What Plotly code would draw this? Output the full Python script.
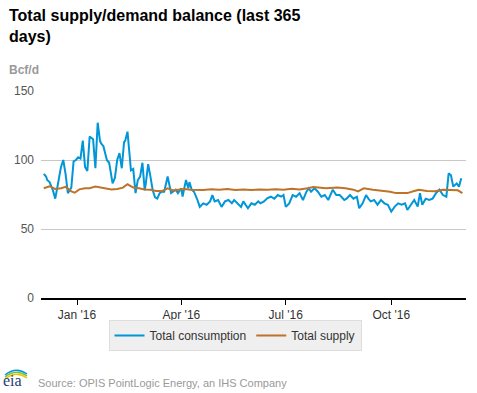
import plotly.graph_objects as go

# ---- data ----
cons_dates = [
    "2015-12-03", "2015-12-05", "2015-12-06", "2015-12-08", "2015-12-11", "2015-12-13", "2015-12-15",
    "2015-12-18", "2015-12-20", "2015-12-22", "2015-12-24", "2015-12-27", "2015-12-29", "2015-12-31",
    "2016-01-02", "2016-01-04", "2016-01-06", "2016-01-08", "2016-01-10", "2016-01-12", "2016-01-15",
    "2016-01-17", "2016-01-19", "2016-01-21", "2016-01-22", "2016-01-24", "2016-01-27", "2016-01-29",
    "2016-02-01", "2016-02-03", "2016-02-05", "2016-02-07", "2016-02-09", "2016-02-11", "2016-02-12",
    "2016-02-14", "2016-02-16", "2016-02-17", "2016-02-19", "2016-02-21", "2016-02-23", "2016-02-25",
    "2016-02-27", "2016-02-29", "2016-03-01", "2016-03-03", "2016-03-05", "2016-03-07", "2016-03-09",
    "2016-03-11", "2016-03-13", "2016-03-15", "2016-03-17", "2016-03-20", "2016-03-23", "2016-03-25",
    "2016-03-27", "2016-03-29", "2016-04-01", "2016-04-02", "2016-04-05", "2016-04-07", "2016-04-08",
    "2016-04-10", "2016-04-12", "2016-04-15", "2016-04-17", "2016-04-20", "2016-04-23", "2016-04-26",
    "2016-04-28", "2016-04-30", "2016-05-03", "2016-05-06", "2016-05-09", "2016-05-12", "2016-05-15",
    "2016-05-17", "2016-05-20", "2016-05-23", "2016-05-25", "2016-05-29", "2016-06-01", "2016-06-04",
    "2016-06-07", "2016-06-09", "2016-06-12", "2016-06-15", "2016-06-18", "2016-06-21", "2016-06-24",
    "2016-06-27", "2016-06-29", "2016-07-01", "2016-07-04", "2016-07-07", "2016-07-10", "2016-07-13",
    "2016-07-16", "2016-07-19", "2016-07-21", "2016-07-23", "2016-07-26", "2016-07-29", "2016-08-01",
    "2016-08-04", "2016-08-07", "2016-08-10", "2016-08-11", "2016-08-14", "2016-08-17", "2016-08-21",
    "2016-08-23", "2016-08-26", "2016-08-29", "2016-09-01", "2016-09-03", "2016-09-06", "2016-09-09",
    "2016-09-11", "2016-09-13", "2016-09-16", "2016-09-19", "2016-09-22", "2016-09-25", "2016-09-28",
    "2016-10-01", "2016-10-04", "2016-10-07", "2016-10-10", "2016-10-13", "2016-10-15", "2016-10-18",
    "2016-10-21", "2016-10-24", "2016-10-26", "2016-10-28", "2016-10-31", "2016-11-03", "2016-11-06",
    "2016-11-09", "2016-11-12", "2016-11-15", "2016-11-18", "2016-11-20", "2016-11-22", "2016-11-24",
    "2016-11-27", "2016-11-29", "2016-12-01",
]
cons_values = [
    90, 88, 85.5, 84, 78, 72, 81,
    95, 100, 90, 76, 80, 99, 100,
    102, 101, 114, 95, 92, 117, 115,
    94, 127, 114, 112, 110, 100, 98,
    83, 87, 100, 105, 94, 113, 114,
    120.5, 102, 92.5, 93.5, 76, 85.5, 88,
    98, 78, 83, 97, 88, 78, 73,
    72, 76, 77, 77, 88, 76, 77,
    78.5, 76, 79.5, 73.5, 85.5, 79.5, 84,
    78.5, 77, 71, 66, 68.6, 67.6, 70,
    74.6, 70, 71, 66, 70, 71, 68.6,
    71, 68.6, 66, 70, 65, 68.6, 67.6,
    70, 68.6, 70, 72.4, 73.4, 72, 74.6,
    73.4, 74.6, 66, 68.6, 74.6, 73.4, 76,
    71, 77, 79.5, 77, 79.5, 77, 73.4,
    74.6, 71, 76, 78.5, 74.6, 74.6, 71,
    72, 74.6, 72, 73.4, 65, 68.6, 74.6,
    72, 70, 71, 67.6, 71, 68.6, 67.6,
    62.6, 66.2, 68.6, 67.6, 68.6, 63.8, 67.6,
    71, 66.2, 76, 67.6, 72, 71, 72,
    76, 78.5, 74.6, 73.4, 90.4, 89, 80.7,
    83, 80.7, 86.7,
]

supply_dates = [
    "2015-12-03", "2015-12-08", "2015-12-13", "2015-12-18", "2015-12-22", "2015-12-27", "2015-12-30",
    "2016-01-03", "2016-01-08", "2016-01-12", "2016-01-17", "2016-01-21", "2016-01-26", "2016-01-31",
    "2016-02-05", "2016-02-10", "2016-02-14", "2016-02-19", "2016-02-24", "2016-02-29", "2016-03-05",
    "2016-03-10", "2016-03-15", "2016-03-20", "2016-03-25", "2016-03-30", "2016-04-04", "2016-04-09",
    "2016-04-14", "2016-04-20", "2016-04-27", "2016-05-04", "2016-05-11", "2016-05-18", "2016-05-25",
    "2016-06-01", "2016-06-08", "2016-06-15", "2016-06-22", "2016-06-29", "2016-07-06", "2016-07-13",
    "2016-07-20", "2016-07-25", "2016-08-05", "2016-08-15", "2016-08-22", "2016-08-29", "2016-09-02",
    "2016-09-07", "2016-09-15", "2016-09-22", "2016-09-30", "2016-10-05", "2016-10-15", "2016-10-21",
    "2016-10-25", "2016-11-01", "2016-11-08", "2016-11-15", "2016-11-22", "2016-11-28", "2016-12-02",
]
supply_values = [
    79.5, 81, 79, 79.5, 80.5, 77.3, 76.3,
    78.7, 79.5, 79.5, 80.7, 80.2, 79.5, 78.7,
    79, 80, 82.4, 80, 79.5, 78.7, 78.5,
    77.5, 77.5, 79.5, 78, 78.5, 79, 78.5,
    78.5, 78.2, 78.8, 78.4, 78.9, 78.3, 78.6,
    78.2, 78.7, 78.4, 78.8, 78.5, 79.2, 78.6,
    79.5, 80.5, 79.5, 80, 79.5, 78.5, 77.3,
    79.5, 78.5, 78, 77, 76, 76, 77.5,
    78.5, 77.5, 77.3, 78.5, 78.5, 78, 76,
]

y_ticks = [0, 50, 100, 150]
x_tick_dates = ["2016-01-01", "2016-04-01", "2016-07-01", "2016-10-01"]
x_tick_labels = ["Jan '16", "Apr '16", "Jul '16", "Oct '16"]

# ---- layout geometry (pixels) ----
W, H = 477, 393
L, R, T, B = 41, 11, 91, 95
PW, PH = W - L - R, H - T - B


def px(x):
    return (x - L) / PW


def py(y):
    return (H - B - y) / PH


FONT = "Liberation Sans, Arial, sans-serif"

fig = go.Figure()
fig.add_trace(go.Scatter(x=cons_dates, y=cons_values, mode="lines", name="Total consumption",
                         line=dict(color="#0096d7", width=2)))
fig.add_trace(go.Scatter(x=supply_dates, y=supply_values, mode="lines", name="Total supply",
                         line=dict(color="#bd732a", width=2)))

fig.update_layout(
    width=W, height=H,
    margin=dict(l=L, r=R, t=T, b=B, autoexpand=False),
    paper_bgcolor="white", plot_bgcolor="white",
    font=dict(family=FONT, size=12, color="#333"),
    showlegend=True,
    legend=dict(orientation="h", x=px(235), xanchor="center", y=py(320), yanchor="top",
                bgcolor="#efefef", bordercolor="#dddddd", borderwidth=1,
                font=dict(size=12, color="#333"), itemwidth=30,
                tracegroupgap=0),
    xaxis=dict(type="date", range=["2015-11-30 14:00", "2016-12-05 03:00"],
               tickvals=x_tick_dates, ticktext=x_tick_labels,
               ticks="outside", ticklen=5, tickcolor="#000", tickwidth=1,
               showline=True, linecolor="#000", linewidth=1.5,
               showgrid=False, zeroline=False,
               tickfont=dict(size=12, color="#333")),
    yaxis=dict(range=[0, 150], tickvals=y_ticks, showgrid=True, gridcolor="#c8c8c8",
               gridwidth=1, zeroline=False, showline=False, ticks="",
               tickfont=dict(size=12, color="#555"), ticklabelstandoff=6),
    annotations=[
        dict(text="<b>Total supply/demand balance (last 365<br>days)</b>", xref="paper", yref="paper",
             x=px(7), y=py(5), xanchor="left", yanchor="top", align="left", showarrow=False,
             font=dict(size=16, color="#000", family=FONT)),
        dict(text="<b>Bcf/d</b>", xref="paper", yref="paper", x=px(7), y=py(70),
             xanchor="left", yanchor="middle", showarrow=False,
             font=dict(size=12, color="#999", family=FONT)),
        dict(text="Source: OPIS PointLogic Energy, an IHS Company", xref="paper", yref="paper",
             x=px(36), y=py(383), xanchor="left", yanchor="middle", showarrow=False,
             font=dict(size=11, color="#999", family=FONT)),
        dict(text="eia", xref="paper", yref="paper", x=px(1), y=py(380),
             xanchor="left", yanchor="middle", showarrow=False,
             font=dict(size=16, color="#1b3f73", family="Liberation Serif, serif")),
    ],
)

# small eia logo arcs (decoration)
arc_specs = [("#f5c200", 373), ("#7cc242", 371), ("#0096d7", 369)]
for color, ytop in arc_specs:
    path = (f"M {px(5)},{py(ytop + 6)} Q {px(16)},{py(ytop - 3)} {px(27)},{py(ytop + 5)}")
    fig.add_shape(type="path", path=path, xref="paper", yref="paper",
                  line=dict(color=color, width=1.5))

fig.write_html("out.html", config={"displayModeBar": False},
               post_script="document.body.style.margin='0';")
